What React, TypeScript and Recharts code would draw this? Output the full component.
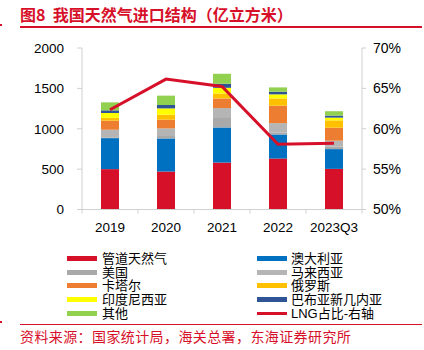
import React from 'react';
import { ComposedChart, Bar, Line, XAxis, YAxis } from 'recharts';

const years = ['2019', '2020', '2021', '2022', '2023Q3'];
const pipeline = [500, 470, 581, 631, 503];
const australia = [384, 410, 435, 298, 245];
const usa = [10, 41, 128, 22, 30];
const malaysia = [94, 83, 112, 119, 74];
const qatar = [112, 108, 119, 215, 161];
const russia = [35, 62, 62, 91, 91];
const indonesia = [60, 78, 70, 50, 34];
const png = [33, 42, 50, 33, 25];
const others = [99, 116, 124, 53, 54];
const lngShare = [0.6235, 0.6615, 0.6524, 0.5809, 0.582];

const leftTicks = [0, 500, 1000, 1500, 2000];
const rightTicks = [0.5, 0.55, 0.6, 0.65, 0.7];

const RED = '#D7102A';
const FONT = '"Liberation Sans", Arial, "Noto Sans CJK SC", sans-serif';

const series = [
  { key: 'pipeline', name: '管道天然气', color: RED, values: pipeline },
  { key: 'australia', name: '澳大利亚', color: '#0070C0', values: australia },
  { key: 'usa', name: '美国', color: '#A9A9A9', values: usa },
  { key: 'malaysia', name: '马来西亚', color: '#B5B5B5', values: malaysia },
  { key: 'qatar', name: '卡塔尔', color: '#ED7D31', values: qatar },
  { key: 'russia', name: '俄罗斯', color: '#FFC000', values: russia },
  { key: 'indonesia', name: '印度尼西亚', color: '#FFFF00', values: indonesia },
  { key: 'png', name: '巴布亚新几内亚', color: '#2F5597', values: png },
  { key: 'others', name: '其他', color: '#92D050', values: others },
];

const data = years.map((y, i) => {
  const row: Record<string, any> = { year: y, lng: lngShare[i] };
  series.forEach((s) => {
    row[s.key] = s.values[i];
  });
  return row;
});

const AXIS_GREY = '#D0D0D0';

const XTick = (props: any) => {
  const { x, y, payload, index } = props;
  const half = 28;
  const axisY = y - 8;
  return (
    <g>
      <line x1={x - half} x2={x - half} y1={axisY} y2={axisY + 4} stroke={AXIS_GREY} />
      {index === years.length - 1 && (
        <line x1={x + half} x2={x + half} y1={axisY} y2={axisY + 4} stroke={AXIS_GREY} />
      )}
      <text x={x} y={y + 14.5} textAnchor="middle" fontSize={13.5} fill="#000" fontFamily={FONT}>
        {payload.value}
      </text>
    </g>
  );
};

const legendLeft = [series[0], series[2], series[4], series[6], series[8]];
const legendRight = [series[1], series[3], series[5], series[7]];

export default function App() {
  const rowY = (i: number) => 258.5 + i * 13.7;
  return (
    <div
      style={{
        position: 'absolute',
        left: 0,
        top: 0,
        width: 424,
        height: 350,
        background: '#fff',
        fontFamily: FONT,
        overflow: 'hidden',
      }}
    >
      <div
        style={{
          position: 'absolute',
          left: 20,
          top: 6,
          fontSize: 16,
          lineHeight: '16px',
          fontWeight: 'bold',
          color: RED,
          whiteSpace: 'pre',
          fontFamily: '"Noto Sans CJK SC", "Liberation Sans", sans-serif',
        }}
      >
        图8  我国天然气进口结构（亿立方米）
      </div>
      <div style={{ position: 'absolute', left: 20, top: 26, width: 402, height: 1.5, background: RED }} />
      <div style={{ position: 'absolute', left: 0, top: 24, width: 2, height: 1.5, background: RED }} />

      <div style={{ position: 'absolute', left: 0, top: 0 }}>
        <ComposedChart
          width={424}
          height={240}
          data={data}
          margin={{ top: 48, right: 0, left: 0, bottom: 0 }}
          barSize={18}
        >
          <XAxis
            dataKey="year"
            height={30.5}
            axisLine={{ stroke: AXIS_GREY }}
            tickLine={false}
            interval={0}
            tick={<XTick />}
          />
          <YAxis
            yAxisId="left"
            domain={[0, 2000]}
            ticks={leftTicks}
            width={82}
            axisLine={{ stroke: AXIS_GREY }}
            tickLine={{ stroke: AXIS_GREY }}
            tickSize={5}
            tickMargin={13}
            tick={{ fontSize: 13.5, fill: '#000', fontFamily: FONT }}
          />
          <YAxis
            yAxisId="right"
            orientation="right"
            domain={[0.5, 0.7]}
            ticks={rightTicks}
            width={62}
            axisLine={{ stroke: AXIS_GREY }}
            tickLine={{ stroke: AXIS_GREY }}
            tickSize={4}
            tickMargin={7}
            tickFormatter={(v: number) => `${Math.round(v * 100)}%`}
            tick={{ fontSize: 14, fill: '#000', fontFamily: FONT, textAnchor: 'start' }}
          />
          {series.map((s) => (
            <Bar
              key={s.key}
              dataKey={s.key}
              name={s.name}
              stackId="a"
              yAxisId="left"
              fill={s.color}
              isAnimationActive={false}
            />
          ))}
          <Line
            dataKey="lng"
            name="LNG占比-右轴"
            yAxisId="right"
            type="linear"
            stroke={RED}
            strokeWidth={3}
            dot={false}
            activeDot={false}
            isAnimationActive={false}
          />
        </ComposedChart>
      </div>

      {legendLeft.map((s, i) => (
        <React.Fragment key={s.key}>
          <div
            style={{
              position: 'absolute',
              left: 67,
              top: rowY(i) - 2.5,
              width: 30,
              height: 5,
              background: s.color,
            }}
          />
          <div
            style={{
              position: 'absolute',
              left: 102,
              top: rowY(i) - 6.5,
              fontSize: 13,
              lineHeight: '13px',
              color: '#000',
              whiteSpace: 'nowrap',
            }}
          >
            {s.name}
          </div>
        </React.Fragment>
      ))}
      {legendRight.map((s, i) => (
        <React.Fragment key={s.key}>
          <div
            style={{
              position: 'absolute',
              left: 257,
              top: rowY(i) - 2.5,
              width: 30,
              height: 5,
              background: s.color,
            }}
          />
          <div
            style={{
              position: 'absolute',
              left: 291,
              top: rowY(i) - 6.5,
              fontSize: 13,
              lineHeight: '13px',
              color: '#000',
              whiteSpace: 'nowrap',
            }}
          >
            {s.name}
          </div>
        </React.Fragment>
      ))}
      <div
        style={{
          position: 'absolute',
          left: 257,
          top: rowY(4) - 1.5,
          width: 30,
          height: 3,
          background: RED,
        }}
      />
      <div
        style={{
          position: 'absolute',
          left: 291,
          top: rowY(4) - 6.5,
          fontSize: 13,
          lineHeight: '13px',
          color: '#000',
          whiteSpace: 'nowrap',
        }}
      >
        LNG占比-右轴
      </div>

      <div style={{ position: 'absolute', left: 20, top: 323.5, width: 402, height: 1, background: RED }} />
      <div style={{ position: 'absolute', left: 0, top: 321, width: 2, height: 1.5, background: RED }} />
      <div
        style={{
          position: 'absolute',
          left: 20,
          top: 329.5,
          fontSize: 14,
          lineHeight: '14px',
          color: RED,
          whiteSpace: 'nowrap',
          letterSpacing: 0.4,
        }}
      >
        资料来源：国家统计局，海关总署，东海证券研究所
      </div>
    </div>
  );
}
